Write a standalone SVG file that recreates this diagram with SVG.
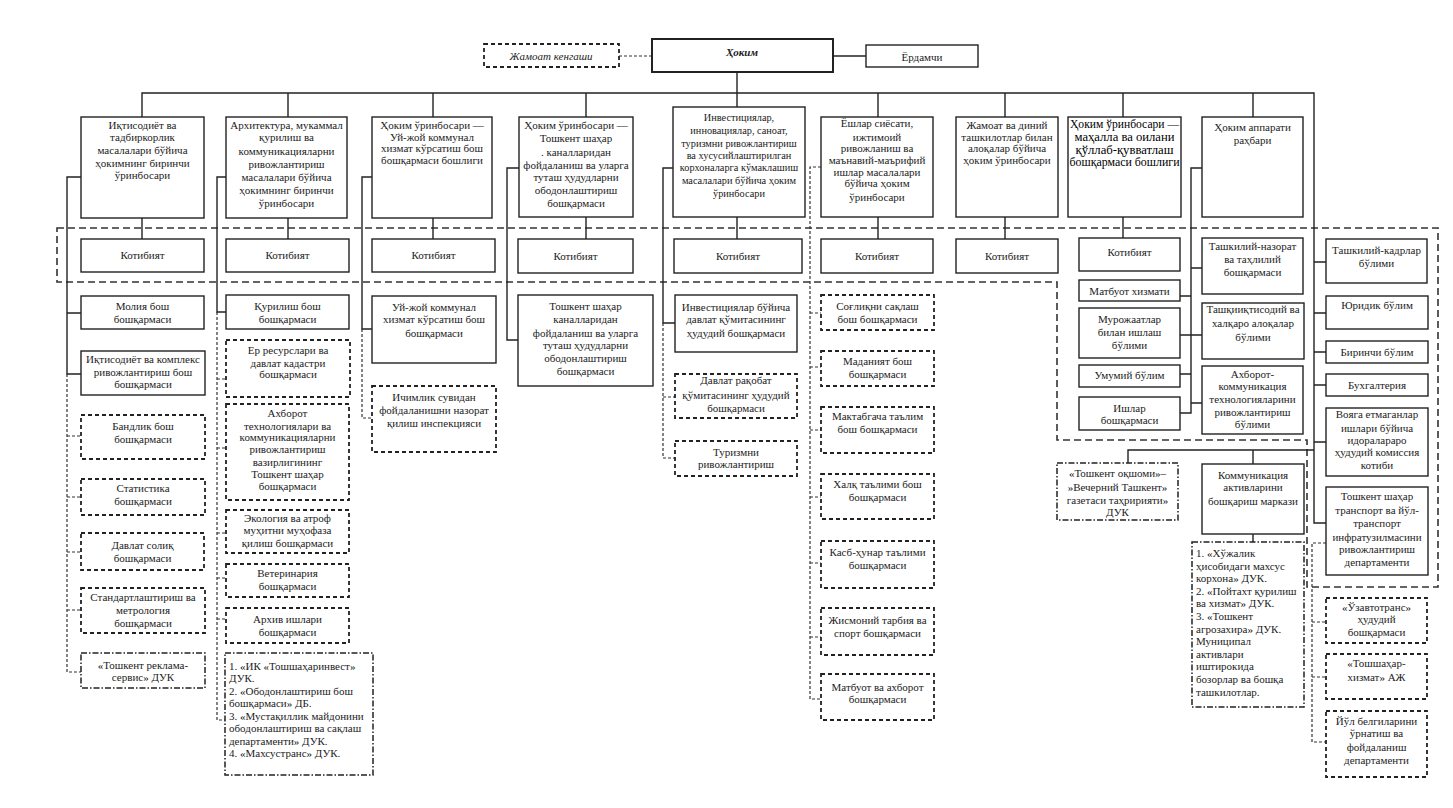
<svg xmlns="http://www.w3.org/2000/svg" width="1453" height="808" viewBox="0 0 1453 808">
<style>
.b{fill:#fff;stroke:#222;stroke-width:1.4}
.d{fill:#fff;stroke:#222;stroke-width:1.8;stroke-dasharray:4 3}
.dd{fill:#fff;stroke:#222;stroke-width:1.5;stroke-dasharray:6 2 1.5 2}
text{font-family:"Liberation Serif","Times New Roman",serif;font-size:11px;fill:#222;text-anchor:middle}
.l{text-anchor:start}
.s{font-size:10.3px}
.big{font-size:12px;fill:#000}
.c{stroke:#222;stroke-width:1.4;fill:none}
.cd{stroke:#333;stroke-width:1.2;stroke-dasharray:3 2;fill:none}
.reg{stroke:#333;stroke-width:1.6;stroke-dasharray:7 4;fill:none}
</style>
<rect width="1453" height="808" fill="#fff"/>
<g id="region">
<path class="reg" d="M57,228 H1438 V587 H1307 V440 H1057 V282 H57 Z"/>
</g>
<g id="connectors">
<path class="cd" d="M619,56 H652"/>
<path class="c" d="M833,56 H866"/>
<path class="c" d="M737,72 V107 M142,117 V93 H1314 V523 H1326"/>
<path class="c" d="M288,93 V117 M433,93 V117 M586,93 V117 M878,93 V117 M1005,93 V117 M1123,93 V117 M1253,93 V117"/>
<path class="c" d="M142,218 V239 M288,218 V239 M433,218 V239 M586,217 V239 M737,217 V239 M878,217 V239 M1005,217 V239 M1123,217 V238"/>
<path class="c" d="M81,177 H67 V374 H81 M67,313 H81"/>
<path class="cd" d="M67,374 V672 H81 M67,436 H81 M67,497 H81 M67,552 H81 M67,610 H81"/>
<path class="c" d="M226,177 H217 V312 H226"/>
<path class="cd" d="M217,312 V720 H226 M217,379 H226 M217,448 H226 M217,533 H226 M217,578 H226 M217,619 H226"/>
<path class="c" d="M372,177 H362 V329 H372"/>
<path class="cd" d="M362,329 V418 H372"/>
<path class="c" d="M519,168 H507 V340 H518"/>
<path class="c" d="M673,168 H663 V323 H675"/>
<path class="cd" d="M663,323 V458 H675 M663,397 H675"/>
<path class="cd" d="M821,167 H810 V699 H821 M810,313 H821 M810,367 H821 M810,430 H821 M810,497 H821 M810,563 H821 M810,637 H821"/>
<path class="c" d="M1202,168 H1191 V413 H1180 M1180,296 H1191 M1180,335 H1191 M1180,374 H1191 M1191,268 H1202 M1191,335 H1202 M1191,403 H1202"/>
<path class="c" d="M1314,262 H1326 M1314,313 H1326 M1314,352 H1326 M1314,385 H1326 M1314,442 H1326"/>
<path class="c" d="M1314,450 H1128 V463 M1253,450 V464 M1253,534 V542"/>
<path class="cd" d="M1326,543 H1312 V742 H1326 M1312,622 H1326 M1312,677 H1326"/>
</g>
<g id="n-hokim"><rect x="652" y="39" width="181" height="33" fill="#fff" stroke="#222" stroke-width="2"/><text x="742" y="56" font-weight="bold" font-style="italic">Ҳоким</text></g>
<g id="n-jamoat"><rect class="d" x="484" y="44" width="135" height="23"/><text x="551" y="60" font-style="italic">Жамоат кенгаши</text></g>
<g id="n-yordamchi"><rect class="b" x="866" y="45" width="112" height="22"/><text x="922" y="61">Ёрдамчи</text></g>

<g id="t1"><rect class="b" x="81" y="117" width="123" height="101"/><text x="142.5" y="129">Иқтисодиёт ва</text><text x="142.5" y="141">тадбиркорлик</text><text x="142.5" y="154">масалалари бўйича</text><text x="142.5" y="167">ҳокимнинг биринчи</text><text x="142.5" y="179">ўринбосари</text></g>
<g id="t2"><rect class="b" x="226" y="117" width="121" height="101"/><text x="286.5" y="129">Архитектура, мукаммал</text><text x="286.5" y="141">қурилиш ва</text><text x="286.5" y="155">коммуникацияларни</text><text x="286.5" y="168">ривожлантириш</text><text x="286.5" y="181">масалалари бўйича</text><text x="286.5" y="194">ҳокимнинг биринчи</text><text x="286.5" y="207">ўринбосари</text></g>
<g id="t3"><rect class="b" x="372" y="117" width="120" height="101"/><text x="432" y="129">Ҳоким ўринбосари —</text><text x="432" y="141">Уй-жой коммунал</text><text x="432" y="152">хизмат кўрсатиш бош</text><text x="432" y="164">бошқармаси бошлиги</text></g>
<g id="t4"><rect class="b" x="519" y="117" width="114" height="100"/><text x="576" y="129">Ҳоким ўринбосари —</text><text x="576" y="142">Тошкент шаҳар</text><text x="576" y="156">. каналларидан</text><text x="576" y="169">фойдаланиш ва уларга</text><text x="576" y="181">туташ ҳудудларни</text><text x="576" y="194">ободонлаштириш</text><text x="576" y="207">бошқармаси</text></g>
<g id="t5"><rect class="b" x="673" y="107" width="132" height="110"/><text class="s" x="739" y="121">Инвестициялар,</text><text class="s" x="739" y="134">инновациялар, саноат,</text><text class="s" x="739" y="147">туризмни ривожлантириш</text><text class="s" x="739" y="159">ва хусусийлаштирилган</text><text class="s" x="739" y="171">корхоналарга кўмаклашиш</text><text class="s" x="739" y="184">масалалари бўйича ҳоким</text><text class="s" x="739" y="197">ўринбосари</text></g>
<g id="t6"><rect class="b" x="821" y="117" width="112" height="100"/><text x="877" y="127">Ёшлар сиёсати,</text><text x="877" y="141">ижтимоий</text><text x="877" y="152">ривожланиш ва</text><text x="877" y="164">маънавий-маърифий</text><text x="877" y="176">ишлар масалалари</text><text x="877" y="187">бўйича ҳоким</text><text x="877" y="201">ўринбосари</text></g>
<g id="t7"><rect class="b" x="956" y="117" width="102" height="100"/><text x="1007" y="129">Жамоат ва диний</text><text x="1007" y="141">ташкилотлар билан</text><text x="1007" y="152">алоқалар бўйича</text><text x="1007" y="164">ҳоким ўринбосари</text></g>
<g id="t8"><rect class="b" x="1068" y="117" width="113" height="100"/><text class="big" x="1124.5" y="128" textLength="109" lengthAdjust="spacingAndGlyphs">Ҳоким ўринбосари —</text><text class="big" x="1124.5" y="141" textLength="100" lengthAdjust="spacingAndGlyphs">маҳалла ва оилани</text><text class="big" x="1124.5" y="154" textLength="98" lengthAdjust="spacingAndGlyphs">қўллаб-қувватлаш</text><text class="big" x="1124.5" y="166" textLength="110" lengthAdjust="spacingAndGlyphs">бошқармаси бошлиги</text></g>
<g id="t9"><rect class="b" x="1202" y="117" width="101" height="100"/><text x="1252.5" y="131">Ҳоким аппарати</text><text x="1252.5" y="144">раҳбари</text></g>

<g id="k1"><rect class="b" x="81" y="239" width="123" height="33"/><text x="142.5" y="259">Котибият</text></g>
<g id="k2"><rect class="b" x="226" y="239" width="123" height="33"/><text x="287.5" y="259">Котибият</text></g>
<g id="k3"><rect class="b" x="372" y="239" width="123" height="33"/><text x="433.5" y="259">Котибият</text></g>
<g id="k4"><rect class="b" x="518" y="239" width="115" height="34"/><text x="575.5" y="260">Котибият</text></g>
<g id="k5"><rect class="b" x="674" y="239" width="128" height="34"/><text x="738" y="260">Котибият</text></g>
<g id="k6"><rect class="b" x="821" y="239" width="112" height="34"/><text x="877" y="260">Котибият</text></g>
<g id="k7"><rect class="b" x="956" y="239" width="102" height="34"/><text x="1007" y="260">Котибият</text></g>
<g id="k8"><rect class="b" x="1079" y="238" width="101" height="33"/><text x="1129.5" y="256">Котибият</text></g>

<g id="c1a"><rect class="b" x="81" y="296" width="123" height="33"/><text x="142.5" y="310">Молия бош</text><text x="142.5" y="323">бошқармаси</text></g>
<g id="c1b"><rect class="b" x="81" y="351" width="124" height="44"/><text x="143" y="363">Иқтисодиёт ва комплекс</text><text x="143" y="376">ривожлантириш бош</text><text x="143" y="388">бошқармаси</text></g>
<g id="c1c"><rect class="d" x="81" y="415" width="124" height="44"/><text x="143" y="430">Бандлик бош</text><text x="143" y="443">бошқармаси</text></g>
<g id="c1d"><rect class="d" x="81" y="479" width="124" height="36"/><text x="143" y="492">Статистика</text><text x="143" y="505">бошқармаси</text></g>
<g id="c1e"><rect class="d" x="81" y="533" width="123" height="37"/><text x="142.5" y="549">Давлат солиқ</text><text x="142.5" y="562">бошқармаси</text></g>
<g id="c1f"><rect class="d" x="81" y="588" width="124" height="45"/><text x="143" y="601">Стандартлаштириш ва</text><text x="143" y="614">метрология</text><text x="143" y="627">бошқармаси</text></g>
<g id="c1g"><rect class="dd" x="81" y="653" width="124" height="35"/><text x="143" y="669">«Тошкент реклама-</text><text x="143" y="681">сервис» ДУК</text></g>

<g id="c2a"><rect class="b" x="226" y="295" width="123" height="34"/><text x="287.5" y="310">Қурилиш бош</text><text x="287.5" y="323">бошқармаси</text></g>
<g id="c2b"><rect class="d" x="226" y="340" width="124" height="57"/><text x="288" y="354">Ер ресурслари ва</text><text x="288" y="367">давлат кадастри</text><text x="288" y="378">бошқармаси</text></g>
<g id="c2c"><rect class="d" x="226" y="404" width="123" height="96"/><text x="287.5" y="417">Ахборот</text><text x="287.5" y="430">технологиялари ва</text><text x="287.5" y="441">коммуникацияларни</text><text x="287.5" y="453">ривожлантириш</text><text x="287.5" y="466">вазирлигининг</text><text x="287.5" y="478">Тошкент шаҳар</text><text x="287.5" y="490">бошқармаси</text></g>
<g id="c2d"><rect class="d" x="226" y="510" width="123" height="43"/><text x="287.5" y="522">Экология ва атроф</text><text x="287.5" y="534">муҳитни муҳофаза</text><text x="287.5" y="547">қилиш бошқармаси</text></g>
<g id="c2e"><rect class="d" x="226" y="564" width="123" height="33"/><text x="287.5" y="577">Ветеринария</text><text x="287.5" y="590">бошқармаси</text></g>
<g id="c2f"><rect class="d" x="226" y="608" width="123" height="35"/><text x="287.5" y="623">Архив ишлари</text><text x="287.5" y="636">бошқармаси</text></g>
<g id="c2g"><rect class="dd" x="225" y="653" width="148" height="122"/><text class="l" x="229" y="670">1. «ИК «Тошшаҳаринвест»</text><text class="l" x="229" y="682">ДУК.</text><text class="l" x="229" y="695">2. «Ободонлаштириш бош</text><text class="l" x="229" y="707">бошқармаси» ДБ.</text><text class="l" x="229" y="720">3. «Мустақиллик майдонини</text><text class="l" x="229" y="732">ободонлаштириш ва сақлаш</text><text class="l" x="229" y="745">департаменти» ДУК.</text><text class="l" x="229" y="757">4. «Махсустранс» ДУК.</text></g>

<g id="c3a"><rect class="b" x="372" y="296" width="124" height="67"/><text x="434" y="311">Уй-жой коммунал</text><text x="434" y="323">хизмат кўрсатиш бош</text><text x="434" y="337">бошқармаси</text></g>
<g id="c3b"><rect class="d" x="372" y="386" width="124" height="66"/><text x="434" y="401">Ичимлик сувидан</text><text x="434" y="414">фойдаланишни назорат</text><text x="434" y="427">қилиш инспекцияси</text></g>

<g id="c4a"><rect class="b" x="518" y="295" width="135" height="91"/><text x="585.5" y="310">Тошкент шаҳар</text><text x="585.5" y="323">каналларидан</text><text x="585.5" y="337">фойдаланиш ва уларга</text><text x="585.5" y="349">туташ ҳудудларни</text><text x="585.5" y="362">ободонлаштириш</text><text x="585.5" y="375">бошқармаси</text></g>

<g id="c5a"><rect class="b" x="675" y="295" width="122" height="57"/><text x="736" y="311">Инвестициялар бўйича</text><text x="736" y="323">давлат қўмитасининг</text><text x="736" y="337">ҳудудий бошқармаси</text></g>
<g id="c5b"><rect class="d" x="675" y="374" width="122" height="44"/><text x="736" y="384">Давлат рақобат</text><text x="736" y="399">қўмитасининг ҳудудий</text><text x="736" y="412">бошқармаси</text></g>
<g id="c5c"><rect class="d" x="675" y="441" width="122" height="35"/><text x="736" y="456">Туризмни</text><text x="736" y="468">ривожлантириш</text></g>

<g id="c6a"><rect class="d" x="821" y="295" width="113" height="35"/><text x="877.5" y="310">Соғлиқни сақлаш</text><text x="877.5" y="323">бош бошқармаси</text></g>
<g id="c6b"><rect class="d" x="821" y="351" width="113" height="35"/><text x="877.5" y="365">Маданият бош</text><text x="877.5" y="378">бошқармаси</text></g>
<g id="c6c"><rect class="d" x="821" y="407" width="113" height="46"/><text x="877.5" y="420">Мактабгача таълим</text><text x="877.5" y="433">бош бошқармаси</text></g>
<g id="c6d"><rect class="d" x="821" y="474" width="113" height="45"/><text x="877.5" y="488">Халқ таълими бош</text><text x="877.5" y="501">бошқармаси</text></g>
<g id="c6e"><rect class="d" x="821" y="541" width="113" height="47"/><text x="877.5" y="556">Касб-ҳунар таълими</text><text x="877.5" y="569">бошқармаси</text></g>
<g id="c6f"><rect class="d" x="821" y="608" width="113" height="47"/><text x="877.5" y="624">Жисмоний тарбия ва</text><text x="877.5" y="637">спорт бошқармаси</text></g>
<g id="c6g"><rect class="d" x="821" y="674" width="113" height="46"/><text x="877.5" y="691">Матбуот ва ахборот</text><text x="877.5" y="703">бошқармаси</text></g>

<g id="r1a"><rect class="b" x="1079" y="280" width="101" height="21"/><text x="1129.5" y="295">Матбуот хизмати</text></g>
<g id="r1b"><rect class="b" x="1079" y="308" width="101" height="50"/><text x="1129.5" y="323">Мурожаатлар</text><text x="1129.5" y="336">билан ишлаш</text><text x="1129.5" y="349">бўлими</text></g>
<g id="r1c"><rect class="b" x="1079" y="365" width="101" height="22"/><text x="1129.5" y="379">Умумий бўлим</text></g>
<g id="r1d"><rect class="b" x="1079" y="397" width="101" height="33"/><text x="1129.5" y="412">Ишлар</text><text x="1129.5" y="424">бошқармаси</text></g>

<g id="r2a"><rect class="b" x="1202" y="238" width="101" height="56"/><text x="1252.5" y="250">Ташкилий-назорат</text><text x="1252.5" y="263">ва таҳлилий</text><text x="1252.5" y="276">бошқармаси</text></g>
<g id="r2b"><rect class="b" x="1202" y="303" width="102" height="56"/><text x="1253" y="313">Ташқииқтисодий ва</text><text x="1253" y="327">халқаро алоқалар</text><text x="1253" y="341">бўлими</text></g>
<g id="r2c"><rect class="b" x="1202" y="366" width="101" height="68"/><text x="1252.5" y="378">Ахборот-</text><text x="1252.5" y="390">коммуникация</text><text x="1252.5" y="403">технологияларини</text><text x="1252.5" y="416">ривожлантириш</text><text x="1252.5" y="428">бўлими</text></g>

<g id="r3a"><rect class="b" x="1326" y="239" width="101" height="44"/><text x="1376.5" y="254">Ташкилий-кадрлар</text><text x="1376.5" y="267">бўлими</text></g>
<g id="r3b"><rect class="b" x="1326" y="296" width="102" height="33"/><text x="1377" y="309">Юридик бўлим</text></g>
<g id="r3c"><rect class="b" x="1326" y="341" width="102" height="22"/><text x="1377" y="356">Биринчи бўлим</text></g>
<g id="r3d"><rect class="b" x="1326" y="374" width="102" height="22"/><text x="1377" y="389">Бухгалтерия</text></g>
<g id="r3e"><rect class="b" x="1326" y="408" width="102" height="68"/><text x="1377" y="418">Вояга етмаганлар</text><text x="1377" y="432">ишлари бўйича</text><text x="1377" y="444">идоралараро</text><text x="1377" y="456">ҳудудий комиссия</text><text x="1377" y="469">котиби</text></g>
<g id="r3f"><rect class="b" x="1326" y="487" width="102" height="88"/><text x="1377" y="500">Тошкент шаҳар</text><text x="1377" y="514">транспорт ва йўл-</text><text x="1377" y="527">транспорт</text><text x="1377" y="541">инфратузилмасини</text><text x="1377" y="553">ривожлантириш</text><text x="1377" y="566">департаменти</text></g>

<g id="b1"><rect class="dd" x="1057" y="463" width="121" height="57"/><text x="1117.5" y="477">«Тошкент оқшоми»–</text><text x="1117.5" y="491">»Вечерний Ташкент»</text><text x="1117.5" y="504">газетаси таҳририяти»</text><text x="1117.5" y="516">ДУК</text></g>
<g id="b2"><rect class="b" x="1202" y="464" width="102" height="70"/><text x="1253" y="479">Коммуникация</text><text x="1253" y="491">активларини</text><text x="1253" y="505">бошқариш маркази</text></g>
<g id="b3"><rect class="dd" x="1192" y="542" width="112" height="165"/><text class="l" x="1196" y="557">1. «Хўжалик</text><text class="l" x="1196" y="570">ҳисобидаги махсус</text><text class="l" x="1196" y="582">корхона» ДУК.</text><text class="l" x="1196" y="595">2. «Пойтахт қурилиш</text><text class="l" x="1196" y="607">ва хизмат» ДУК.</text><text class="l" x="1196" y="620">3. «Тошкент</text><text class="l" x="1196" y="633">агрозахира» ДУК.</text><text class="l" x="1196" y="645">Муниципал</text><text class="l" x="1196" y="658">активлари</text><text class="l" x="1196" y="670">иштирокида</text><text class="l" x="1196" y="683">бозорлар ва бошқа</text><text class="l" x="1196" y="696">ташкилотлар.</text></g>
<g id="b4"><rect class="d" x="1326" y="598" width="101" height="45"/><text x="1376.5" y="611">«Ўзавтотранс»</text><text x="1376.5" y="623">ҳудудий</text><text x="1376.5" y="636">бошқармаси</text></g>
<g id="b5"><rect class="d" x="1326" y="654" width="101" height="45"/><text x="1376.5" y="667">«Тошшаҳар-</text><text x="1376.5" y="681">хизмат» АЖ</text></g>
<g id="b6"><rect class="d" x="1326" y="711" width="101" height="66"/><text x="1376.5" y="725">Йўл белгиларини</text><text x="1376.5" y="737">ўрнатиш ва</text><text x="1376.5" y="751">фойдаланиш</text><text x="1376.5" y="764">департаменти</text></g>
</svg>
